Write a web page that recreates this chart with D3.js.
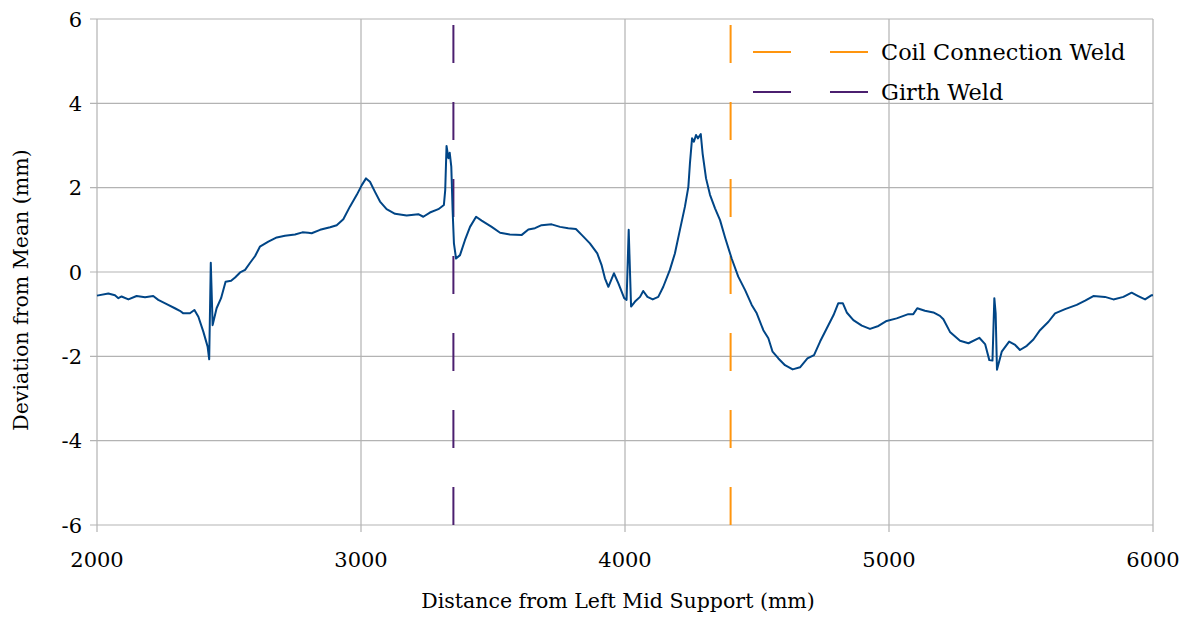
<!DOCTYPE html>
<html>
<head>
<meta charset="utf-8">
<title>Deviation from Mean</title>
<script src="https://d3js.org/d3.v7.min.js"></script>
<style>
  body { margin: 0; background: #fff; }
  text { font-family: "DejaVu Serif", serif; fill: #000; }
</style>
</head>
<body>
<script>
var distance = [2000, 2043, 2068, 2081, 2093, 2119, 2150, 2182, 2213, 2232, 2264, 2295, 2314, 2327, 2352, 2369, 2384, 2403, 2419, 2425,
  2431, 2438, 2453, 2470, 2487, 2508, 2523, 2542, 2561, 2580, 2599, 2617, 2649, 2681, 2712, 2750, 2778, 2800, 2813, 2845,
  2883, 2908, 2933, 2958, 2984, 3003, 3019, 3034, 3053, 3072, 3097, 3129, 3173, 3217, 3236, 3261, 3293, 3314, 3319, 3324,
  3331, 3336, 3342, 3347, 3352, 3360, 3375, 3394, 3413, 3436, 3457, 3495, 3527, 3564, 3609, 3634, 3659, 3684, 3722, 3754,
  3785, 3814, 3836, 3867, 3895, 3911, 3924, 3937, 3958, 3975, 3997, 4006, 4014, 4023, 4038, 4057, 4069, 4085, 4105, 4126,
  4145, 4170, 4189, 4208, 4227, 4240, 4246, 4254, 4261, 4269, 4276, 4287, 4294, 4307, 4322, 4341, 4360, 4379, 4404, 4429,
  4455, 4480, 4499, 4524, 4543, 4559, 4581, 4606, 4635, 4663, 4691, 4716, 4739, 4764, 4790, 4808, 4825, 4840, 4865, 4897,
  4928, 4960, 4991, 5029, 5073, 5092, 5107, 5136, 5168, 5193, 5206, 5231, 5269, 5301, 5342, 5364, 5380, 5392, 5399, 5404,
  5409, 5427, 5455, 5478, 5496, 5522, 5547, 5572, 5604, 5629, 5667, 5711, 5743, 5774, 5818, 5850, 5888, 5919, 5944, 5970,
  5995, 6000];
var deviation = [-0.56, -0.51, -0.55, -0.62, -0.58, -0.65, -0.57, -0.60, -0.57, -0.66, -0.76, -0.86, -0.92, -0.98, -0.98, -0.90, -1.06, -1.42, -1.77, -2.07,
  0.22, -1.26, -0.86, -0.62, -0.23, -0.21, -0.13, -0.01, 0.05, 0.22, 0.38, 0.60, 0.72, 0.82, 0.86, 0.89, 0.94, 0.93, 0.92, 1.00,
  1.06, 1.11, 1.25, 1.55, 1.83, 2.06, 2.22, 2.14, 1.90, 1.67, 1.49, 1.38, 1.34, 1.37, 1.31, 1.41, 1.49, 1.59, 1.94, 2.99,
  2.70, 2.83, 2.50, 1.47, 0.68, 0.32, 0.40, 0.76, 1.07, 1.31, 1.22, 1.07, 0.93, 0.89, 0.88, 1.01, 1.04, 1.11, 1.13, 1.07,
  1.04, 1.02, 0.88, 0.68, 0.44, 0.17, -0.15, -0.35, -0.03, -0.27, -0.62, -0.66, 1.00, -0.82, -0.70, -0.59, -0.45, -0.59, -0.65, -0.59,
  -0.35, 0.05, 0.44, 1.00, 1.55, 2.02, 2.58, 3.17, 3.09, 3.25, 3.17, 3.27, 2.81, 2.22, 1.83, 1.51, 1.23, 0.82, 0.32, -0.11,
  -0.43, -0.78, -0.98, -1.38, -1.57, -1.89, -2.05, -2.21, -2.31, -2.26, -2.05, -1.97, -1.65, -1.34, -1.02, -0.74, -0.74, -0.96, -1.14, -1.27,
  -1.35, -1.28, -1.16, -1.10, -1.00, -1.00, -0.86, -0.92, -0.96, -1.04, -1.12, -1.42, -1.63, -1.69, -1.56, -1.71, -2.09, -2.10, -0.62, -0.98,
  -2.32, -1.89, -1.65, -1.73, -1.85, -1.75, -1.60, -1.38, -1.18, -0.98, -0.88, -0.78, -0.68, -0.57, -0.59, -0.65, -0.59, -0.49, -0.57, -0.65,
  -0.55, -0.55];

var weldNames = ["Coil Connection Weld", "Girth Weld"];
var weldPositions = [4400, 3350];
var weldColors = ["#ff950e", "#4b1f6f"];

var xTicks = [2000, 3000, 4000, 5000, 6000];
var yTicks = [-6, -4, -2, 0, 2, 4, 6];

var width = 1192, height = 617;
var margin = {top: 19, right: 39, bottom: 92, left: 97};

var svg = d3.select("body").append("svg")
  .attr("width", width)
  .attr("height", height);

var x = d3.scaleLinear().domain([2000, 6000]).range([margin.left, width - margin.right]);
var y = d3.scaleLinear().domain([-6, 6]).range([height - margin.bottom, margin.top]);

var grid = "#b3b3b3";

// grid lines
svg.append("g").selectAll("line.hg")
  .data(yTicks).enter().append("line")
  .attr("x1", x(2000) - 7).attr("x2", x(6000))
  .attr("y1", d => y(d)).attr("y2", d => y(d))
  .attr("stroke", grid).attr("stroke-width", 1.2);

svg.append("g").selectAll("line.vg")
  .data(xTicks).enter().append("line")
  .attr("x1", d => x(d)).attr("x2", d => x(d))
  .attr("y1", y(6)).attr("y2", y(-6) + 7)
  .attr("stroke", grid).attr("stroke-width", 1.2);

// tick labels
svg.append("g").selectAll("text")
  .data(yTicks).enter().append("text")
  .attr("x", x(2000) - 15)
  .attr("y", d => y(d))
  .attr("dy", "0.36em")
  .attr("text-anchor", "end")
  .attr("font-size", 21)
  .text(d => d);

svg.append("g").selectAll("text")
  .data(xTicks).enter().append("text")
  .attr("x", d => x(d))
  .attr("y", y(-6) + 42)
  .attr("text-anchor", "middle")
  .attr("font-size", 21)
  .text(d => d);

// axis titles
svg.append("text")
  .attr("x", 618)
  .attr("y", 608)
  .attr("text-anchor", "middle")
  .attr("font-size", 20.5)
  .text("Distance from Left Mid Support (mm)");

svg.append("text")
  .attr("transform", "translate(28,290) rotate(-90)")
  .attr("text-anchor", "middle")
  .attr("font-size", 20.5)
  .text("Deviation from Mean (mm)");

// weld markers
svg.append("g").selectAll("line")
  .data(weldPositions).enter().append("line")
  .attr("x1", d => x(d)).attr("x2", d => x(d))
  .attr("y1", y(6)).attr("y2", y(-6))
  .attr("stroke", (d, i) => weldColors[i])
  .attr("stroke-width", 2)
  .attr("stroke-dasharray", "38,39")
  .attr("stroke-dashoffset", 71);

// profile
var pts = distance.map((d, i) => [d, deviation[i]]);
svg.append("path")
  .datum(pts)
  .attr("fill", "none")
  .attr("stroke", "#004586")
  .attr("stroke-width", 2)
  .attr("stroke-linejoin", "round")
  .attr("d", d3.line().x(d => x(d[0])).y(d => y(d[1])));

// legend
var legend = svg.append("g").selectAll("g")
  .data(weldNames).enter().append("g")
  .attr("transform", (d, i) => "translate(753," + (52 + i * 40) + ")");

legend.append("line")
  .attr("x1", 0).attr("x2", 115)
  .attr("stroke", (d, i) => weldColors[i])
  .attr("stroke-width", 2)
  .attr("stroke-dasharray", "38,39");

legend.append("text")
  .attr("x", 128)
  .attr("dy", "0.36em")
  .attr("font-size", 22.4)
  .text(d => d);
</script>
</body>
</html>
